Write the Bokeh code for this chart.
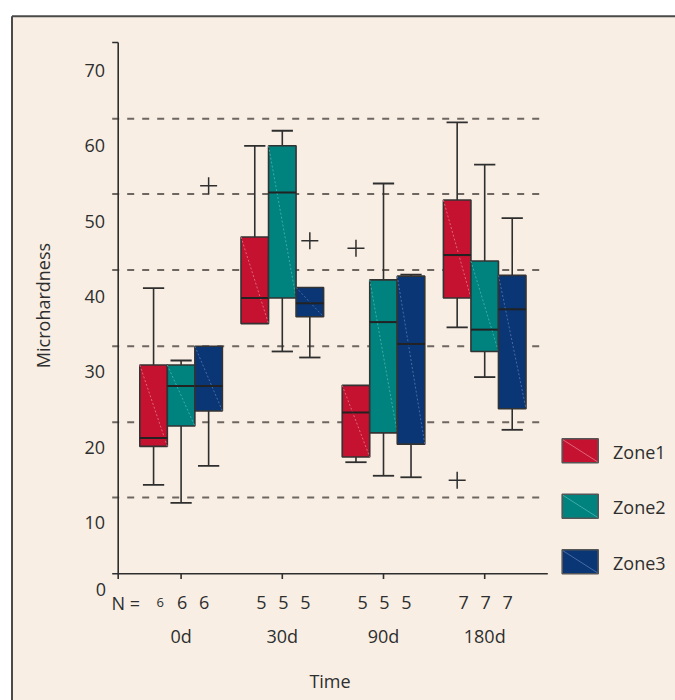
from bokeh.plotting import figure
from bokeh.models import Range1d, ColumnDataSource
from bokeh.core.properties import value
from bokeh.embed import file_html
from bokeh.resources import INLINE
import math

# ---------------- data ----------------
groups = ["0d", "30d", "90d", "180d"]
zones = ["Zone1", "Zone2", "Zone3"]
n_counts = [6, 5, 5, 7]

# one list per zone, values per group (0d, 30d, 90d, 180d)
whisker_low = [[15.0, 36.4, 18.0, 35.9],
               [12.6, 32.7, 16.2, 29.3],
               [17.5, 31.9, 16.0, 22.3]]
quartile1 = [[20.1, 36.4, 18.7, 39.8],
             [22.8, 39.8, 21.9, 32.7],
             [24.8, 37.3, 20.4, 25.1]]
medians = [[21.2, 39.8, 24.6, 45.5],
           [28.1, 53.8, 36.6, 35.6],
           [28.1, 39.1, 33.7, 38.3]]
quartile3 = [[30.9, 47.9, 28.2, 52.8],
             [30.9, 60.0, 42.2, 44.7],
             [33.4, 41.2, 42.7, 42.8]]
whisker_high = [[41.1, 60.0, 28.2, 63.1],
                [31.5, 62.0, 55.0, 57.5],
                [33.4, 41.2, 42.9, 50.4]]

outlier_group = ["0d", "30d", "90d", "180d"]
outlier_zone = ["Zone3", "Zone3", "Zone1", "Zone1"]
outlier_value = [54.7, 47.4, 46.4, 15.6]

y_tick_values = [10, 20, 30, 40, 50, 60, 70]
y_tick_labels = ["10", "20", "30", "40", "50", "60", "70"]
ref_lines = [13.3, 23.3, 33.4, 43.5, 53.6, 63.6]

# ---------------- style ----------------
FILL = ["#C41230", "#00827F", "#0A3675"]
DIAG = ["#E57A8C", "#4FB5B0", "#5579B0"]
BEIGE = "#F8EEE4"
INK = "#2E2E2E"
FONT = value("Open Sans")
BOX_W = 0.272
CAP_W = 0.21
OFFS = [-BOX_W, 0.0, BOX_W]


def X(px):  # canvas pixel -> x data
    return 1 + (px - 180.6) / 101.2


def Y(py):  # canvas pixel -> y data
    return (597.3 - py) / 7.533


p = figure(width=675, height=700,
           x_range=Range1d(X(0), X(675)), y_range=Range1d(Y(700), Y(0)),
           output_backend="svg", toolbar_location=None,
           x_axis_location=None, y_axis_location=None,
           min_border=0, outline_line_color=None,
           background_fill_color="white", border_fill_color="white")
p.grid.visible = False

# panel background and frame
p.quad(left=[X(11)], right=[X(680)], top=[Y(15.5)], bottom=[Y(705)],
       fill_color=BEIGE, line_color=None)
p.segment(x0=[X(11.5), X(11.5)], y0=[Y(15.8), Y(15.8)],
          x1=[X(680), X(11.5)], y1=[Y(15.8), Y(705)],
          line_color="#4a4a4a", line_width=2)

# dashed reference lines
p.segment(x0=[X(111.7)] * len(ref_lines), x1=[X(539)] * len(ref_lines),
          y0=ref_lines, y1=ref_lines, line_color="#6e6660",
          line_width=2, line_dash="7 8")

# axes lines
xpos = [i + 1 for i in range(len(groups))]
p.segment(x0=[X(117.7), X(111.7), X(111.7)], y0=[Y(42), Y(42), Y(573.3)],
          x1=[X(117.7), X(117.7), X(547.3)], y1=[Y(578.5), Y(42), Y(573.3)],
          line_color=INK, line_width=1.6)
p.segment(x0=xpos, x1=xpos, y0=[Y(573.3)] * len(xpos), y1=[Y(578.5)] * len(xpos),
          line_color=INK, line_width=1.6)

# boxes
for zi, zname in enumerate(zones):
    cx = [g + OFFS[zi] for g in xpos]
    left = [c - BOX_W / 2 for c in cx]
    right = [c + BOX_W / 2 for c in cx]
    src = ColumnDataSource(dict(cx=cx, left=left, right=right,
                                lo=whisker_low[zi], q1=quartile1[zi], med=medians[zi],
                                q3=quartile3[zi], hi=whisker_high[zi]))
    # whiskers
    p.segment(x0="cx", x1="cx", y0="q3", y1="hi", source=src, line_color=INK, line_width=1.6)
    p.segment(x0="cx", x1="cx", y0="q1", y1="lo", source=src, line_color=INK, line_width=1.6)
    # caps where whiskers exist
    hc = [(c, h) for c, h, q in zip(cx, whisker_high[zi], quartile3[zi]) if h > q]
    lc = [(c, l) for c, l, q in zip(cx, whisker_low[zi], quartile1[zi]) if l < q]
    caps = hc + lc
    if caps:
        p.segment(x0=[c - CAP_W / 2 for c, _ in caps], x1=[c + CAP_W / 2 for c, _ in caps],
                  y0=[v for _, v in caps], y1=[v for _, v in caps],
                  line_color=INK, line_width=1.8)
    p.quad(left="left", right="right", bottom="q1", top="q3", source=src,
           fill_color=FILL[zi], line_color="#333333", line_width=1.6)
    p.segment(x0="left", y0="q3", x1="right", y1="q1", source=src,
              line_color=DIAG[zi], line_width=1, line_alpha=0.8, line_dash="2 2")
    p.segment(x0="left", x1="right", y0="med", y1="med", source=src,
              line_color="#222222", line_width=2)

# outliers
ox = [groups.index(g) + 1 + OFFS[zones.index(z)] for g, z in zip(outlier_group, outlier_zone)]
p.scatter(x=ox, y=outlier_value, marker="cross", size=17, line_color=INK, line_width=1.5)

# y tick labels and titles
p.text(x=[X(104.5)] * len(y_tick_values), y=y_tick_values, text=y_tick_labels,
       text_align="right", text_baseline="middle", text_font=FONT,
       text_font_size="18px", text_color=INK)
p.text(x=[X(105.5)], y=[Y(589)], text=["0"], text_align="right", text_baseline="middle",
       text_font=FONT, text_font_size="18px", text_color=INK)
p.text(x=[X(42)], y=[Y(305)], text=["Microhardness"], angle=math.pi / 2,
       text_align="center", text_baseline="middle", text_font=FONT,
       text_font_size="18px", text_color=INK)

# N row
p.text(x=[X(111)], y=[Y(602)], text=["N ="], text_align="left", text_baseline="middle",
       text_font=FONT, text_font_size="18px", text_color=INK)
nx, ny, nt, ns = [], [], [], []
for gi, n in enumerate(n_counts):
    for k in range(3):
        nx.append(gi + 1 + 0.217 * (k - 1) + 0.01)
        ny.append(Y(602))
        nt.append(str(n))
        ns.append("13px" if (gi == 0 and k == 0) else "18px")
p.text(x=nx, y=ny, text=nt, text_align="center", text_baseline="middle",
       text_font=FONT, text_font_size=ns, text_color=INK)

# category labels and x title
p.text(x=xpos, y=[Y(635)] * len(xpos), text=groups, text_align="center",
       text_baseline="middle", text_font=FONT, text_font_size="18px", text_color=INK)
p.text(x=[X(329.5)], y=[Y(680)], text=["Time"], text_align="center",
       text_baseline="middle", text_font=FONT, text_font_size="18px", text_color=INK)

# legend
leg_step = 55.5
for zi, zname in enumerate(zones):
    top_px = 438.3 + zi * leg_step
    bot_px = top_px + 24
    p.quad(left=[X(561.7)], right=[X(597.7)], top=[Y(top_px)], bottom=[Y(bot_px)],
           fill_color=FILL[zi], line_color="#555555", line_width=1.6)
    p.segment(x0=[X(562.5)], y0=[Y(top_px + 1)], x1=[X(597)], y1=[Y(bot_px - 1)],
              line_color=DIAG[zi], line_width=1, line_alpha=0.8)
    p.text(x=[X(612.5)], y=[Y(top_px + 13)], text=[zname], text_align="left",
           text_baseline="middle", text_font=FONT, text_font_size="18px", text_color=INK)

open("out.html", "w").write(file_html(p, INLINE))
